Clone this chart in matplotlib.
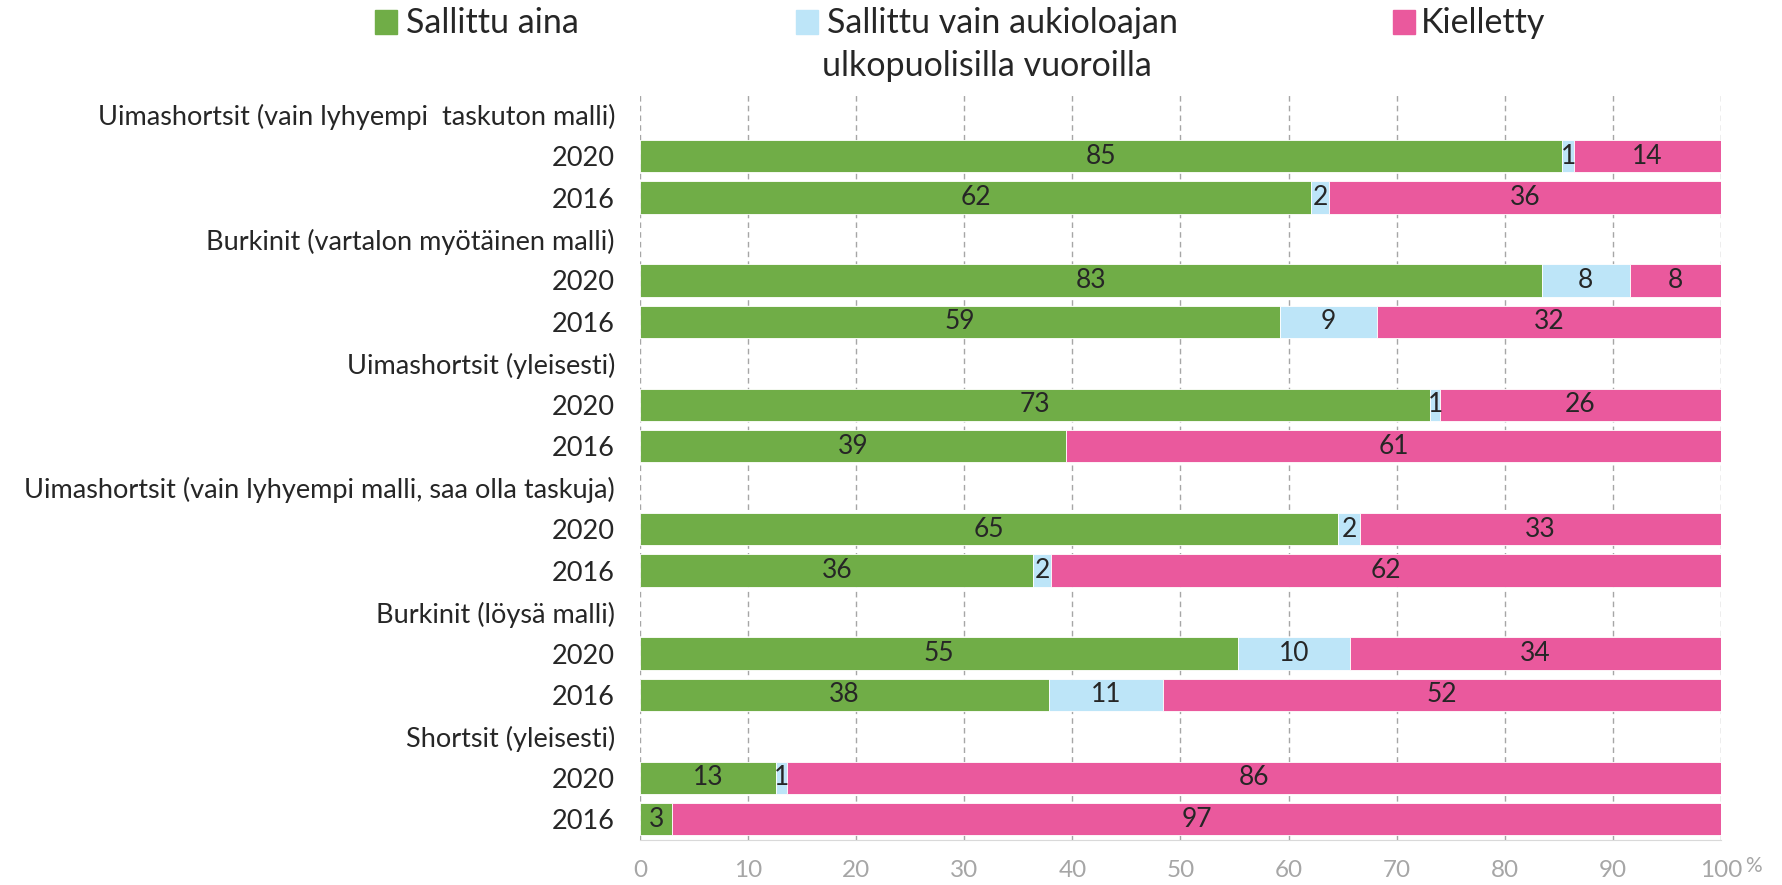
import numpy as np
import matplotlib
matplotlib.use('Agg')
from matplotlib import pyplot as plt
from matplotlib.patches import Rectangle

plt.rcParams['font.family'] = ['Lato', 'DejaVu Sans']

groups = ['Uimashortsit (vain lyhyempi  taskuton malli)',
          'Burkinit (vartalon myötäinen malli)',
          'Uimashortsit (yleisesti)',
          'Uimashortsit (vain lyhyempi malli, saa olla taskuja)',
          'Burkinit (löysä malli)',
          'Shortsit (yleisesti)']
years = ['2020', '2016']
series = ['Sallittu aina',
          'Sallittu vain aukioloajan\nulkopuolisilla vuoroilla',
          'Kielletty']
colors = ['#70AD47', '#BDE5F8', '#EA599D']

# one value per bar, order: group1 2020, group1 2016, group2 2020, ...
aina = [85.3, 62.1, 83.4, 59.2, 73.1, 39.4, 64.6, 36.4, 55.3, 37.8, 12.6, 3.0]
vain = [1.1, 1.6, 8.2, 9.0, 0.9, 0.0, 2.0, 1.6, 10.4, 10.6, 1.0, 0.0]
kielletty = [13.6, 36.3, 8.4, 31.8, 26.0, 60.6, 33.4, 62.0, 34.3, 51.6, 86.4, 97.0]
xticks = [0, 10, 20, 30, 40, 50, 60, 70, 80, 90, 100]

W, H, DPI = 1783, 885, 100
fig = plt.figure(figsize=(W / DPI, H / DPI), dpi=DPI)
ax = fig.add_axes([640 / W, 1 - 840 / H, (1721 - 640) / W, (840 - 94) / H])

# row layout: header row, then 2020 and 2016 for each group
ylabels, bar_rows = [], []
for g in groups:
    ylabels.append(g)
    for y in years:
        bar_rows.append(len(ylabels))
        ylabels.append(y)
bar_rows = np.array(bar_rows)

left = np.zeros(len(aina))
for vals, col in zip([aina, vain, kielletty], colors):
    vals = np.array(vals)
    bars = ax.barh(bar_rows, vals, left=left, height=0.78, color=col,
                   edgecolor='white', linewidth=0.6, zorder=2)
    labels = ['%.0f' % v if v > 0 else '' for v in vals]
    ax.bar_label(bars, labels=labels, label_type='center', fontsize=19,
                 color='#262626')
    left += vals

ax.set_ylim(len(ylabels) - 0.5, -0.5)
ax.set_yticks(range(len(ylabels)))
ax.set_yticklabels(ylabels, fontsize=19.5, color='#262626')
ax.tick_params(axis='y', length=0, pad=18)
ax.set_xlim(0, 100)
ax.set_xticks(xticks)
ax.set_xticklabels([str(t) for t in xticks], fontsize=17.5, color='#A6A6A6')
ax.tick_params(axis='x', length=0, pad=14.5)
ax.grid(axis='x', color='#A6A6A6', linestyle=(0, (4, 3)), linewidth=1.0, zorder=0)
for s in ['top', 'right', 'left']:
    ax.spines[s].set_visible(False)
ax.spines['bottom'].set_color('#D9D9D9')
fig.text(1745 / W, 1 - 866 / H, '%', fontsize=15, color='#A6A6A6',
         ha='left', va='center')

# legend drawn by hand
leg = [(375, 406), (796, 827), (1393, 1421)]
for (mx, tx), lab, col in zip(leg, series, colors):
    fig.patches.append(Rectangle((mx / W, 1 - 34 / H), 22 / W, 24 / H,
                                 transform=fig.transFigure, color=col))
    for i, line in enumerate(lab.split('\n')):
        fig.text((tx - 5 * i) / W, 1 - (23 + 43 * i) / H, line, fontsize=24.5,
                 color='#262626', ha='left', va='center')

fig.savefig('out.png', dpi=DPI)
